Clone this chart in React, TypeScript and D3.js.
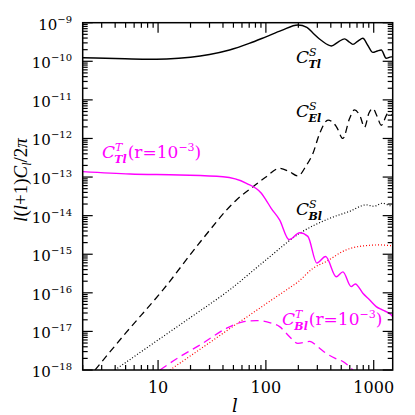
import React from "react";
import * as d3 from "d3";

const W = 415;
const H = 415;
const margin = { top: 22.7, right: 22.3, bottom: 45, left: 82.7 };

// scalar temperature (black solid)
const ttL = [2, 4, 7.8, 12, 20, 30, 46, 70, 100, 140, 198, 240, 273, 330, 405, 470, 537, 590, 641, 720, 793, 880, 982, 1080, 1175, 1305, 1450, 1500];
const ttV = [1.24e-10, 1.18e-10, 1.13e-10, 1.15e-10, 1.27e-10, 1.5e-10, 1.96e-10, 2.9e-10, 4.3e-10, 6.3e-10, 8.7e-10, 7.6e-10, 5.4e-10, 3.4e-10, 2.5e-10, 3.2e-10, 3.8e-10, 3.2e-10, 2.75e-10, 3.4e-10, 3.95e-10, 2.6e-10, 1.7e-10, 1.85e-10, 1.96e-10, 1.2e-10, 1.3e-10, 1.3e-10];

// scalar E-mode (black dashed)
const eeL = [2.6, 5, 11.1, 25, 53.3, 76, 100, 134, 166, 198, 237, 273, 315, 377, 450, 518, 597, 664, 750, 822, 902, 982, 1077, 1175, 1360, 1500];
const eeV = [1e-18, 9e-18, 1.19e-16, 2.2e-15, 2.55e-14, 5.6e-14, 1.0e-13, 1.69e-13, 1.37e-13, 1.07e-13, 2.0e-13, 4.1e-13, 1.34e-12, 3.0e-12, 2.04e-12, 1.0e-12, 3.3e-12, 5.5e-12, 3.7e-12, 1.95e-12, 4.5e-12, 6e-12, 3.7e-12, 2.2e-12, 4.5e-12, 4e-12];

// scalar (lensing) B-mode (black dotted)
const bbL = [3.98, 10, 20, 46, 100, 206, 390, 600, 853, 1000, 1206, 1450, 1500];
const bbV = [1e-18, 6e-18, 2.3e-17, 1.19e-16, 7.1e-16, 3.5e-15, 8.5e-15, 1.3e-14, 1.9e-14, 1.75e-14, 2.1e-14, 1.8e-14, 1.8e-14];

// red dotted
const redL = [12.9, 15.9, 30, 46, 70, 108, 155, 200, 273, 363, 556, 740, 1132, 1500];
const redV = [1e-18, 1.5e-18, 5.1e-18, 1.17e-17, 2.6e-17, 6e-17, 1.19e-16, 1.95e-16, 4.3e-16, 6.5e-16, 1.3e-15, 1.6e-15, 1.74e-15, 1.65e-15];

// tensor temperature r=1e-3 (magenta solid)
const tTL = [2, 5.5, 15.8, 40, 66, 90.8, 100, 112, 134, 164, 206, 245, 297, 358, 450, 518, 618, 675, 793, 914, 1055, 1200, 1450, 1500];
const tTV = [1.38e-13, 1.2e-13, 1.13e-13, 1.02e-13, 6.9e-14, 3.8e-14, 2.57e-14, 1.55e-14, 7.8e-15, 2.4e-15, 3.6e-15, 2.9e-15, 5.9e-16, 8.7e-16, 2.6e-16, 3.5e-16, 1.45e-16, 1.7e-16, 9.8e-17, 6.6e-17, 4.4e-17, 3.6e-17, 2.7e-17, 2.4e-17];

// tensor B-mode r=1e-3 (magenta dashed)
const tBL = [10.4, 15.9, 25, 43, 60, 81.7, 110, 134, 165, 198, 255, 300, 363, 440, 518, 641];
const tBV = [1e-18, 2.2e-18, 4.6e-18, 1.2e-17, 1.74e-17, 1.9e-17, 1.67e-17, 1.33e-17, 7.4e-18, 4.9e-18, 5.5e-18, 4.1e-18, 2.7e-18, 2e-18, 1.66e-18, 1e-18];

const xMajor = [10, 100, 1000];
const yExp = [-9, -10, -11, -12, -13, -14, -15, -16, -17, -18];

const MAG = "#ff00ff";
const FONT = "DejaVu Serif";
const TFONT = "Liberation Serif";

const series = [
  { l: ttL, v: ttV, color: "#000", dash: "none", w: 1.4 },
  { l: eeL, v: eeV, color: "#000", dash: "7,4.5", w: 1.3 },
  { l: bbL, v: bbV, color: "#000", dash: "1,2", w: 1.2 },
  { l: redL, v: redV, color: "#ff0000", dash: "1,2", w: 1.2 },
  { l: tTL, v: tTV, color: MAG, dash: "none", w: 1.4 },
  { l: tBL, v: tBV, color: MAG, dash: "8,5", w: 1.3 },
];

const CLabel = ({ x, y, sup, sub, color, tail }: any) => (
  <text x={x} y={y} fill={color} fontFamily={FONT} fontSize={17} fontStyle="italic">
    <tspan>C</tspan>
    <tspan dx={0} dy={-7} fontSize={11}>{sup}</tspan>
    <tspan dx={-8} dy={12} fontSize={11} fontWeight="bold">{sub}</tspan>
    {tail && (
      <tspan dx={1} dy={-5} fontStyle="normal" fontSize={17}>
        (r=10<tspan dy={-7} fontSize={11}>−3</tspan><tspan dy={7}>)</tspan>
      </tspan>
    )}
  </text>
);

export default function App() {
  const x = d3.scaleLog().domain([2, 1500]).range([margin.left, W - margin.right]);
  const y = d3.scaleLog().domain([1e-18, 1e-9]).range([H - margin.bottom, margin.top]);
  const x0 = margin.left, x1 = W - margin.right, y0 = H - margin.bottom, y1 = margin.top;

  const line = d3
    .line<[number, number]>()
    .x((d) => x(d[0]))
    .y((d) => y(d[1]))
    .curve(d3.curveMonotoneX);

  const xTicks: { v: number; major: boolean }[] = [];
  for (let dec = 1; dec <= 1000; dec *= 10) {
    for (let k = 1; k <= 9; k++) {
      const v = k * dec;
      if (v >= 2 && v <= 1500) xTicks.push({ v, major: k === 1 });
    }
  }
  const yTicks: { v: number; major: boolean }[] = [];
  for (let e = -18; e <= -9; e++) {
    for (let k = 1; k <= 9; k++) {
      const v = k * Math.pow(10, e);
      if (v <= 1.0001e-9) yTicks.push({ v, major: k === 1 });
    }
  }

  return (
    <div style={{ position: "absolute", left: 0, top: 0 }}>
      <svg width={W} height={H} style={{ display: "block", background: "#fff" }}>
        <defs>
          <clipPath id="plot">
            <rect x={x0} y={y1} width={x1 - x0} height={y0 - y1} />
          </clipPath>
        </defs>

        <g clipPath="url(#plot)" fill="none">
          {series.map((s, i) => (
            <path
              key={i}
              d={line(s.l.map((l, j) => [l, s.v[j]] as [number, number])) || ""}
              stroke={s.color}
              strokeWidth={s.w}
              strokeDasharray={s.dash}
            />
          ))}
        </g>

        {/* ticks, inward on all four sides */}
        <g stroke="#000" strokeWidth={1.2}>
          {xTicks.map((t, i) => {
            const len = t.major ? 10 : 5;
            const px = x(t.v);
            return (
              <g key={"x" + i}>
                <line x1={px} x2={px} y1={y0} y2={y0 - len} />
                <line x1={px} x2={px} y1={y1} y2={y1 + len} />
              </g>
            );
          })}
          {yTicks.map((t, i) => {
            const len = t.major ? 10 : 5;
            const py = y(t.v);
            return (
              <g key={"y" + i}>
                <line x1={x0} x2={x0 + len} y1={py} y2={py} />
                <line x1={x1} x2={x1 - len} y1={py} y2={py} />
              </g>
            );
          })}
        </g>
        <rect x={x0} y={y1} width={x1 - x0} height={y0 - y1} fill="none" stroke="#000" strokeWidth={1.5} />

        {/* tick labels */}
        <g fontFamily={FONT} fontSize={16} textAnchor="middle">
          {xMajor.map((v) => (
            <text key={v} x={x(v)} y={393}>{v}</text>
          ))}
        </g>
        <g fontFamily={FONT} fontSize={15}>
          {yExp.map((e) => (
            <text key={e} x={72} y={y(Math.pow(10, e)) + 7} textAnchor="end">
              10<tspan dy={-7} fontSize={10}>{"−" + Math.abs(e)}</tspan>
            </text>
          ))}
        </g>

        {/* axis titles */}
        <text x={235} y={412} fontFamily={FONT} fontSize={18} fontStyle="italic" textAnchor="middle">l</text>
        <text
          transform="translate(27,180) rotate(-90)"
          fontFamily={TFONT}
          fontSize={19}
          textAnchor="middle"
        >
          <tspan fontStyle="italic">l</tspan>(<tspan fontStyle="italic">l</tspan>+1)<tspan fontStyle="italic">C</tspan>
          <tspan dy={4} fontSize={12} fontStyle="italic">l</tspan>
          <tspan dy={-4}>/2</tspan>
          <tspan fontStyle="italic">π</tspan>
        </text>

        {/* curve labels */}
        <CLabel x={296} y={63} sup="S" sub="Tl" color="#000" />
        <CLabel x={296} y={117} sup="S" sub="El" color="#000" />
        <CLabel x={296} y={215} sup="S" sub="Bl" color="#000" />
        <CLabel x={102} y={158} sup="T" sub="Tl" color={MAG} tail />
        <CLabel x={282} y={325} sup="T" sub="Bl" color={MAG} tail />
      </svg>
    </div>
  );
}
